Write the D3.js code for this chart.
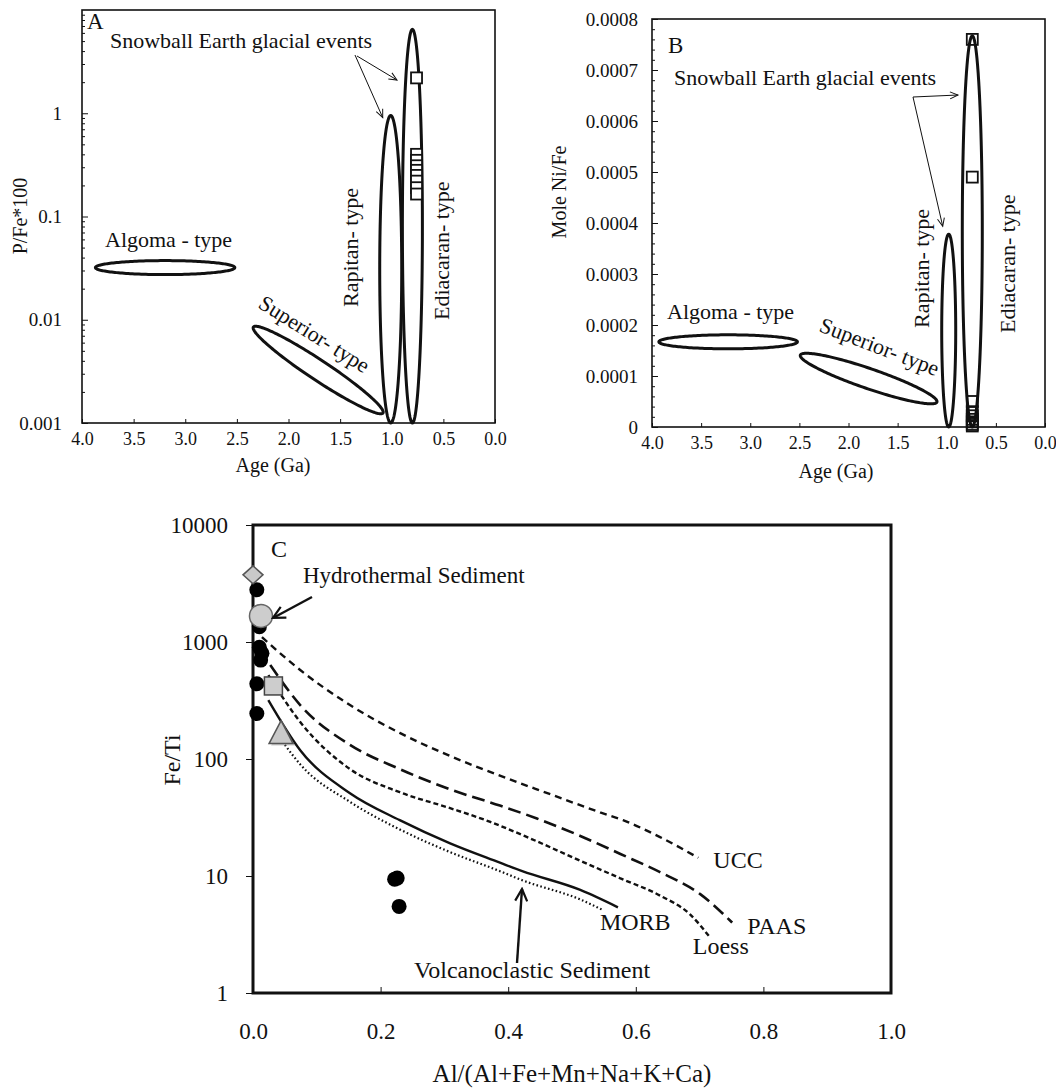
<!DOCTYPE html>
<html><head><meta charset="utf-8">
<script src="https://cdn.jsdelivr.net/npm/d3@7"></script>
<style>
body{margin:0;background:#fff}
svg{display:block}
text{font-family:"Liberation Serif","Times New Roman",serif;fill:#111}
</style>
</head><body>
<svg id="chart" width="1056" height="1088"></svg>
<script>
// ================= DATA =================
const ageTicks = [4.0, 3.5, 3.0, 2.5, 2.0, 1.5, 1.0, 0.5, 0.0];
const pFeTicks = [0.001, 0.01, 0.1, 1];
const niFeTicks = [0, 0.0001, 0.0002, 0.0003, 0.0004, 0.0005, 0.0006, 0.0007, 0.0008];
const alTicks = [0, 0.2, 0.4, 0.6, 0.8, 1.0];
const feTiTicks = [1, 10, 100, 1000, 10000];

const fieldNames = ["Algoma", "Superior", "Rapitan", "Ediacaran"];
// major-axis end points of each iron-formation field: [age1, value1, age2, value2]
const fieldsA = [[3.87, 0.032, 2.52, 0.032], [2.34, 0.0085, 1.085, 0.00125], [1.01, 0.001, 1.01, 0.95], [0.80, 0.001, 0.80, 6.5]];
const fieldsB = [[3.93, 0.000167, 2.52, 0.000167], [2.49, 0.000141, 1.10, 0.000049], [0.98, 0, 0.98, 0.000378], [0.74, 0, 0.74, 0.000767]];

const sampleAgeA = 0.76;
const pFeSamples = [2.2, 0.40, 0.35, 0.31, 0.28, 0.25, 0.22, 0.19, 0.165];
const sampleAgeB = 0.74;
const niFeSamples = [0.00076, 0.00049, 0.00005, 0.00003, 0.000022, 0.000015, 0.00001, 0.000005, 0.000002];

// panel C: [Al/(Al+Fe+Mn+Na+K+Ca), Fe/Ti]
const blackSamples = [[0.006, 2800], [0.010, 1350], [0.010, 900], [0.014, 800], [0.012, 700], [0.006, 440], [0.006, 245], [0.222, 9.4], [0.226, 9.6], [0.229, 5.5]];
const diamondPt = [0.0, 3750];
const hydroPt = [0.0125, 1670];
const squarePt = [0.032, 421];
const trianglePt = [0.044, 165];

const uccCurve = [[0.014, 1100], [0.074, 576], [0.152, 289], [0.230, 167], [0.309, 106], [0.387, 72], [0.466, 50], [0.544, 35], [0.580, 30], [0.638, 21.5], [0.698, 14.3]];
const paasCurve = [[0.027, 636], [0.074, 289], [0.152, 132], [0.230, 82], [0.309, 55], [0.387, 40], [0.445, 31], [0.513, 22], [0.575, 15.5], [0.638, 10.8], [0.701, 7.0], [0.751, 4.0]];
const loessCurve = [[0.024, 522], [0.074, 207], [0.152, 82], [0.230, 52], [0.309, 38], [0.372, 29], [0.434, 21], [0.513, 13.5], [0.575, 9.6], [0.638, 6.8], [0.685, 4.7], [0.716, 3.0]];
const morbCurve = [[0.024, 319], [0.074, 119], [0.152, 51], [0.230, 30], [0.309, 19], [0.387, 13], [0.422, 11], [0.513, 7.6], [0.572, 5.4]];
const volcCurve = [[0.050, 132], [0.074, 90], [0.152, 43], [0.230, 25], [0.309, 16], [0.387, 11.0], [0.422, 9.2], [0.513, 6.3], [0.549, 5.1]];

// ================= STYLE =================
const ink = "#111";
const halfWA = [7, 10, 11, 10];
const halfWB = [7, 10, 7, 10];

const svg = d3.select("#chart");
const defs = svg.append("defs");
function mk(id, len, wid, sw) {
  defs.append("marker").attr("id", id).attr("markerUnits", "userSpaceOnUse")
    .attr("viewBox", `0 0 ${len + 2} ${wid + 2}`).attr("refX", len).attr("refY", wid / 2 + 1)
    .attr("markerWidth", len + 2).attr("markerHeight", wid + 2).attr("orient", "auto")
    .append("path").attr("d", `M1,1 L${len},${wid / 2 + 1} L1,${wid + 1}`)
    .attr("fill", "none").attr("stroke", ink).attr("stroke-width", sw);
}
mk("arrThin", 9, 7, 1);
mk("arrThick", 13, 12, 2.2);

function ellipsePath(p1, p2, halfW) {
  const cx = (p1[0] + p2[0]) / 2, cy = (p1[1] + p2[1]) / 2;
  const dx = p2[0] - p1[0], dy = p2[1] - p1[1];
  const a = Math.hypot(dx, dy) / 2, ang = Math.atan2(dy, dx);
  const pts = d3.range(0, 360, 2).map(t => {
    const r = t * Math.PI / 180, x = a * Math.cos(r), y = halfW * Math.sin(r);
    return [cx + x * Math.cos(ang) - y * Math.sin(ang), cy + x * Math.sin(ang) + y * Math.cos(ang)];
  });
  return d3.line()(pts) + "Z";
}
function styleAxis(g, fs) {
  g.select(".domain").remove();
  g.selectAll(".tick line").attr("stroke", ink).attr("stroke-width", 1);
  g.selectAll(".tick text").attr("font-size", fs).attr("fill", ink)
    .attr("font-family", '"Liberation Serif","Times New Roman",serif');
}
function txt(x, y, s, fs, rot, anchor) {
  const t = svg.append("text").attr("font-size", fs).attr("text-anchor", anchor || "start").text(s);
  t.attr("transform", `translate(${x},${y})` + (rot ? ` rotate(${rot})` : ""));
  return t;
}

// ================= PANEL A =================
const xA = d3.scaleLinear().domain([4, 0]).range([82, 495]);
const yA = d3.scaleLog().domain([0.001, 10]).range([423, 10]);
{
  const g = svg.append("g");
  g.append("g").attr("transform", "translate(82,0)")
    .call(d3.axisLeft(yA).tickValues(pFeTicks).tickSize(-6).tickPadding(20).tickFormat(d => String(d)))
    .call(a => styleAxis(a, 19));
  const minorsA = [];
  [0.001, 0.01, 0.1, 1].forEach(dec => { for (let k = 2; k <= 9; k++) if (dec * k < 10) minorsA.push(dec * k); });
  g.append("g").attr("transform", "translate(82,0)")
    .call(d3.axisLeft(yA).tickValues(minorsA).tickSize(-3).tickFormat(""))
    .call(a => styleAxis(a, 0));
  g.append("g").attr("transform", "translate(0,423)")
    .call(d3.axisBottom(xA).tickValues(ageTicks).tickSize(-4).tickPadding(9).tickFormat(d3.format(".1f")))
    .call(a => styleAxis(a, 18));
  g.append("rect").attr("x", 82).attr("y", 10).attr("width", 413).attr("height", 413)
    .attr("fill", "none").attr("stroke", ink).attr("stroke-width", 1.6);
  g.selectAll("path.field").data(fieldsA).join("path").attr("class", "field")
    .attr("d", (f, i) => ellipsePath([xA(f[0]), yA(f[1])], [xA(f[2]), yA(f[3])], halfWA[i]))
    .attr("fill", "none").attr("stroke", ink).attr("stroke-width", 3);
  g.selectAll("rect.s").data(pFeSamples).join("rect").attr("class", "s")
    .attr("x", xA(sampleAgeA) - 5.5).attr("y", d => yA(d) - 5.5).attr("width", 11).attr("height", 11)
    .attr("fill", "#fff").attr("stroke", ink).attr("stroke-width", 1.8);
  txt(87, 29, "A", 23);
  txt(110, 48, "Snowball Earth glacial events", 22);
  g.append("line").attr("x1", 355).attr("y1", 55).attr("x2", xA(fieldsA[2][2]) - 8).attr("y2", yA(fieldsA[2][3]) + 2)
    .attr("stroke", ink).attr("stroke-width", 1).attr("marker-end", "url(#arrThin)");
  g.append("line").attr("x1", 357).attr("y1", 56).attr("x2", 397).attr("y2", 80)
    .attr("stroke", ink).attr("stroke-width", 1).attr("marker-end", "url(#arrThin)");
  txt(105, 247, "Algoma - type", 22);
  txt(257, 307, "Superior- type", 22, 32);
  txt(358, 307, "Rapitan- type", 22, -90);
  txt(449, 320, "Ediacaran- type", 22, -90);
  txt(27, 216, "P/Fe*100", 20, -90, "middle");
  txt(273, 472, "Age (Ga)", 20, 0, "middle");
}

// ================= PANEL B =================
const xB = d3.scaleLinear().domain([4, 0]).range([652, 1045]);
const yB = d3.scaleLinear().domain([0, 0.0008]).range([427, 19]);
{
  const g = svg.append("g");
  g.append("g").attr("transform", "translate(652,0)")
    .call(d3.axisLeft(yB).tickValues(niFeTicks).tickSize(-6).tickPadding(14).tickFormat(d => d === 0 ? "0" : d.toFixed(4)))
    .call(a => styleAxis(a, 19));
  g.append("g").attr("transform", "translate(652,0)")
    .call(d3.axisLeft(yB).tickValues(d3.range(0, 0.00080001, 0.00002)).tickSize(-3).tickFormat(""))
    .call(a => styleAxis(a, 0));
  g.append("g").attr("transform", "translate(0,427)")
    .call(d3.axisBottom(xB).tickValues(ageTicks).tickSize(-4).tickPadding(9).tickFormat(d3.format(".1f")))
    .call(a => styleAxis(a, 18));
  g.append("rect").attr("x", 652).attr("y", 19).attr("width", 393).attr("height", 408)
    .attr("fill", "none").attr("stroke", ink).attr("stroke-width", 1.6);
  g.selectAll("path.field").data(fieldsB).join("path").attr("class", "field")
    .attr("d", (f, i) => ellipsePath([xB(f[0]), yB(f[1])], [xB(f[2]), yB(f[3])], halfWB[i]))
    .attr("fill", "none").attr("stroke", ink).attr("stroke-width", 3);
  g.selectAll("rect.s").data(niFeSamples).join("rect").attr("class", "s")
    .attr("x", xB(sampleAgeB) - 5.5).attr("y", d => yB(d) - 5.5).attr("width", 11).attr("height", 11)
    .attr("fill", "none").attr("stroke", ink).attr("stroke-width", 1.8);
  txt(668, 53, "B", 23);
  txt(674, 85, "Snowball Earth glacial events", 22);
  g.append("line").attr("x1", 913).attr("y1", 97).attr("x2", 958).attr("y2", 95)
    .attr("stroke", ink).attr("stroke-width", 1).attr("marker-end", "url(#arrThin)");
  g.append("line").attr("x1", 913).attr("y1", 97).attr("x2", xB(fieldsB[2][2]) - 6).attr("y2", yB(fieldsB[2][3]) - 8)
    .attr("stroke", ink).attr("stroke-width", 1).attr("marker-end", "url(#arrThin)");
  txt(667, 319, "Algoma - type", 22);
  txt(818, 331, "Superior- type", 22, 21);
  txt(929, 328, "Rapitan- type", 22, -90);
  txt(1015, 333, "Ediacaran- type", 22, -90);
  txt(566, 192, "Mole Ni/Fe", 20, -90, "middle");
  txt(836, 478, "Age (Ga)", 20, 0, "middle");
}

// ================= PANEL C =================
const xC = d3.scaleLinear().domain([0, 1]).range([253, 891]);
const yC = d3.scaleLog().domain([1, 10000]).range([993, 525]);
{
  const g = svg.append("g");
  g.append("g").attr("transform", "translate(253,0)")
    .call(d3.axisLeft(yC).tickValues(feTiTicks).tickSize(7).tickPadding(18).tickFormat(d => String(d)))
    .call(a => styleAxis(a, 23));
  g.append("g").attr("transform", "translate(0,993)")
    .call(d3.axisBottom(xC).tickValues(alTicks).tickSize(-6).tickPadding(30).tickFormat(d3.format(".1f")))
    .call(a => styleAxis(a, 23));
  g.append("rect").attr("x", 253).attr("y", 525).attr("width", 638).attr("height", 468)
    .attr("fill", "none").attr("stroke", ink).attr("stroke-width", 3);

  const line = d3.line().x(d => xC(d[0])).y(d => yC(d[1])).curve(d3.curveMonotoneX);
  const curves = [
    [uccCurve, "7,5", 2.4],
    [paasCurve, "13,6", 2.6],
    [loessCurve, "5,3", 2.4],
    [morbCurve, null, 2.4],
    [volcCurve, "1.6,2.4", 2.2]
  ];
  curves.forEach(c => {
    g.append("path").attr("d", line(c[0])).attr("fill", "none").attr("stroke", ink)
      .attr("stroke-width", c[2]).attr("stroke-dasharray", c[1]);
  });

  g.selectAll("circle.b").data(blackSamples).join("circle").attr("class", "b")
    .attr("cx", d => xC(d[0])).attr("cy", d => yC(d[1])).attr("r", 7.5).attr("fill", "#000");
  const dx = xC(diamondPt[0]), dy = yC(diamondPt[1]);
  g.append("path").attr("d", `M${dx},${dy - 9} L${dx + 10},${dy} L${dx},${dy + 9} L${dx - 10},${dy} Z`)
    .attr("fill", "#c9c9c9").attr("stroke", "#555").attr("stroke-width", 1.5);
  g.append("circle").attr("cx", xC(hydroPt[0])).attr("cy", yC(hydroPt[1])).attr("r", 11.5)
    .attr("fill", "#cdcdcd").attr("stroke", "#666").attr("stroke-width", 1.5);
  g.append("rect").attr("x", xC(squarePt[0]) - 9).attr("y", yC(squarePt[1]) - 9).attr("width", 18).attr("height", 18)
    .attr("fill", "#cdcdcd").attr("stroke", "#444").attr("stroke-width", 1.5);
  const tx = xC(trianglePt[0]), ty = yC(trianglePt[1]);
  g.append("path").attr("d", `M${tx + 2},${ty - 11} L${tx + 14},${ty + 12} L${tx - 10},${ty + 12} Z`)
    .attr("fill", "#999").attr("opacity", 0.5);
  g.append("path").attr("d", `M${tx},${ty - 13} L${tx + 12},${ty + 10} L${tx - 12},${ty + 10} Z`)
    .attr("fill", "#c9c9c9").attr("stroke", "#555").attr("stroke-width", 1.5);

  txt(271, 557, "C", 24);
  txt(303, 583, "Hydrothermal Sediment", 23);
  g.append("line").attr("x1", 312).attr("y1", 597).attr("x2", xC(hydroPt[0]) + 12).attr("y2", yC(hydroPt[1]) + 2)
    .attr("stroke", ink).attr("stroke-width", 2.4).attr("marker-end", "url(#arrThick)");
  const endOf = c => c[c.length - 1];
  txt(xC(endOf(uccCurve)[0]) + 15, yC(endOf(uccCurve)[1]) + 10, "UCC", 24);
  txt(xC(endOf(paasCurve)[0]) + 15, yC(endOf(paasCurve)[1]) + 11, "PAAS", 24);
  txt(xC(endOf(loessCurve)[0]) - 17, yC(endOf(loessCurve)[1]) + 17, "Loess", 24);
  txt(xC(endOf(morbCurve)[0]) - 18, yC(endOf(morbCurve)[1]) + 23, "MORB", 24);
  txt(414, 978, "Volcanoclastic Sediment", 24);
  g.append("line").attr("x1", 517).attr("y1", 963).attr("x2", 522).attr("y2", 889)
    .attr("stroke", ink).attr("stroke-width", 2.4).attr("marker-end", "url(#arrThick)");
  txt(180, 760, "Fe/Ti", 24, -90, "middle");
  txt(572, 1082, "Al/(Al+Fe+Mn+Na+K+Ca)", 25, 0, "middle");
}
</script>
</body></html>
